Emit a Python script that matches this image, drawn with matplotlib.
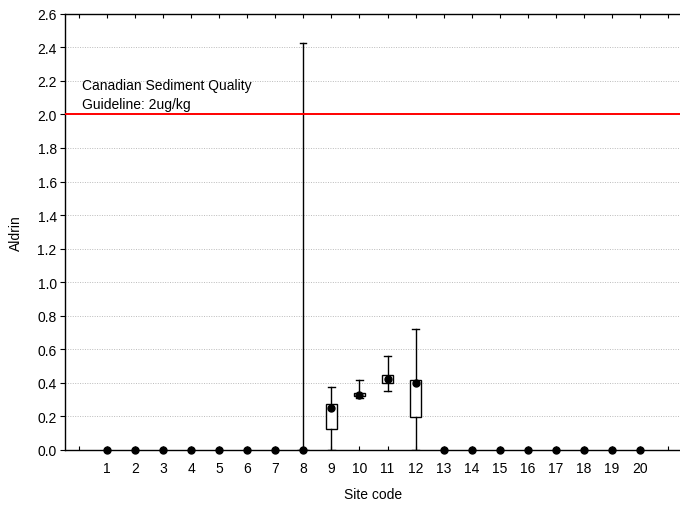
import matplotlib
matplotlib.use("Agg")
import matplotlib.pyplot as plt

plt.rcParams['font.family'] = ['Liberation Sans', 'DejaVu Sans']

sites = list(range(1, 21))
medians = [0, 0, 0, 0, 0, 0, 0, 0, 0.252, 0.330, 0.421, 0.400,
           0, 0, 0, 0, 0, 0, 0, 0]
q1 = [0, 0, 0, 0, 0, 0, 0, 0, 0.125, 0.322, 0.400, 0.197,
      0, 0, 0, 0, 0, 0, 0, 0]
q3 = [0, 0, 0, 0, 0, 0, 0, 0, 0.276, 0.338, 0.447, 0.417,
      0, 0, 0, 0, 0, 0, 0, 0]
wmin = [0, 0, 0, 0, 0, 0, 0, 0, 0.0, 0.308, 0.354, 0.0,
        0, 0, 0, 0, 0, 0, 0, 0]
wmax = [0, 0, 0, 0, 0, 0, 0, 2.425, 0.374, 0.420, 0.558, 0.722,
        0, 0, 0, 0, 0, 0, 0, 0]
guideline = 2.0
guideline_text = "Canadian Sediment Quality\nGuideline: 2ug/kg"
yticks = [0.0, 0.2, 0.4, 0.6, 0.8, 1.0, 1.2, 1.4, 1.6, 1.8, 2.0, 2.2, 2.4, 2.6]

FS = 10

fig = plt.figure(figsize=(6.8, 5.06), dpi=100)
ax = fig.add_axes([65 / 680, 1 - 451 / 506, 617 / 680, (451 - 14.7) / 506])

stats = []
for s, m, a, b, lo, hi in zip(sites, medians, q1, q3, wmin, wmax):
    if hi > 0:
        stats.append(dict(med=m, q1=a, q3=b, whislo=lo, whishi=hi,
                          fliers=[], label=str(s)))
pos = [s for s, hi in zip(sites, wmax) if hi > 0]
ax.bxp(stats, positions=pos, widths=0.42, showfliers=False,
       patch_artist=True,
       boxprops=dict(facecolor='white', edgecolor='black', linewidth=1.0),
       whiskerprops=dict(color='black', linewidth=1.0),
       capprops=dict(color='black', linewidth=1.0),
       medianprops=dict(linewidth=0),
       capwidths=0.22, manage_ticks=False, zorder=3)

ax.plot(sites, medians, 'o', color='black', markersize=5, linestyle='none',
        clip_on=False, zorder=5)

ax.axhline(guideline, color='red', linewidth=1.4, zorder=4)
ax.text(0.1, 2.217, guideline_text, fontsize=FS, va='top', ha='left',
        linespacing=1.5)

ax.set_xlim(-0.5, 21.5)
ax.set_ylim(0, 2.6)
ax.set_yticks(yticks)
ax.set_yticklabels([f"{v:.1f}" for v in yticks])
ax.set_xticks(list(range(0, 22)))
ax.set_xticklabels([''] + [str(s) for s in sites] + [''])
ax.tick_params(axis='x', direction='in', top=True, length=3, labelsize=FS,
               pad=8)
ax.tick_params(axis='y', direction='out', length=3.5, labelsize=FS, pad=2.5)
for v in yticks[1:-1]:
    ax.axhline(v, color='#bbbbbb', linestyle=(0, (1, 1.5)), linewidth=0.7,
               zorder=0)
for sp in ax.spines.values():
    sp.set_linewidth(1.0)

ax.set_xlabel("Site code", fontsize=FS, labelpad=8.5)
ax.set_ylabel("Aldrin", fontsize=FS, labelpad=10)

fig.savefig("out.png", dpi=100)
